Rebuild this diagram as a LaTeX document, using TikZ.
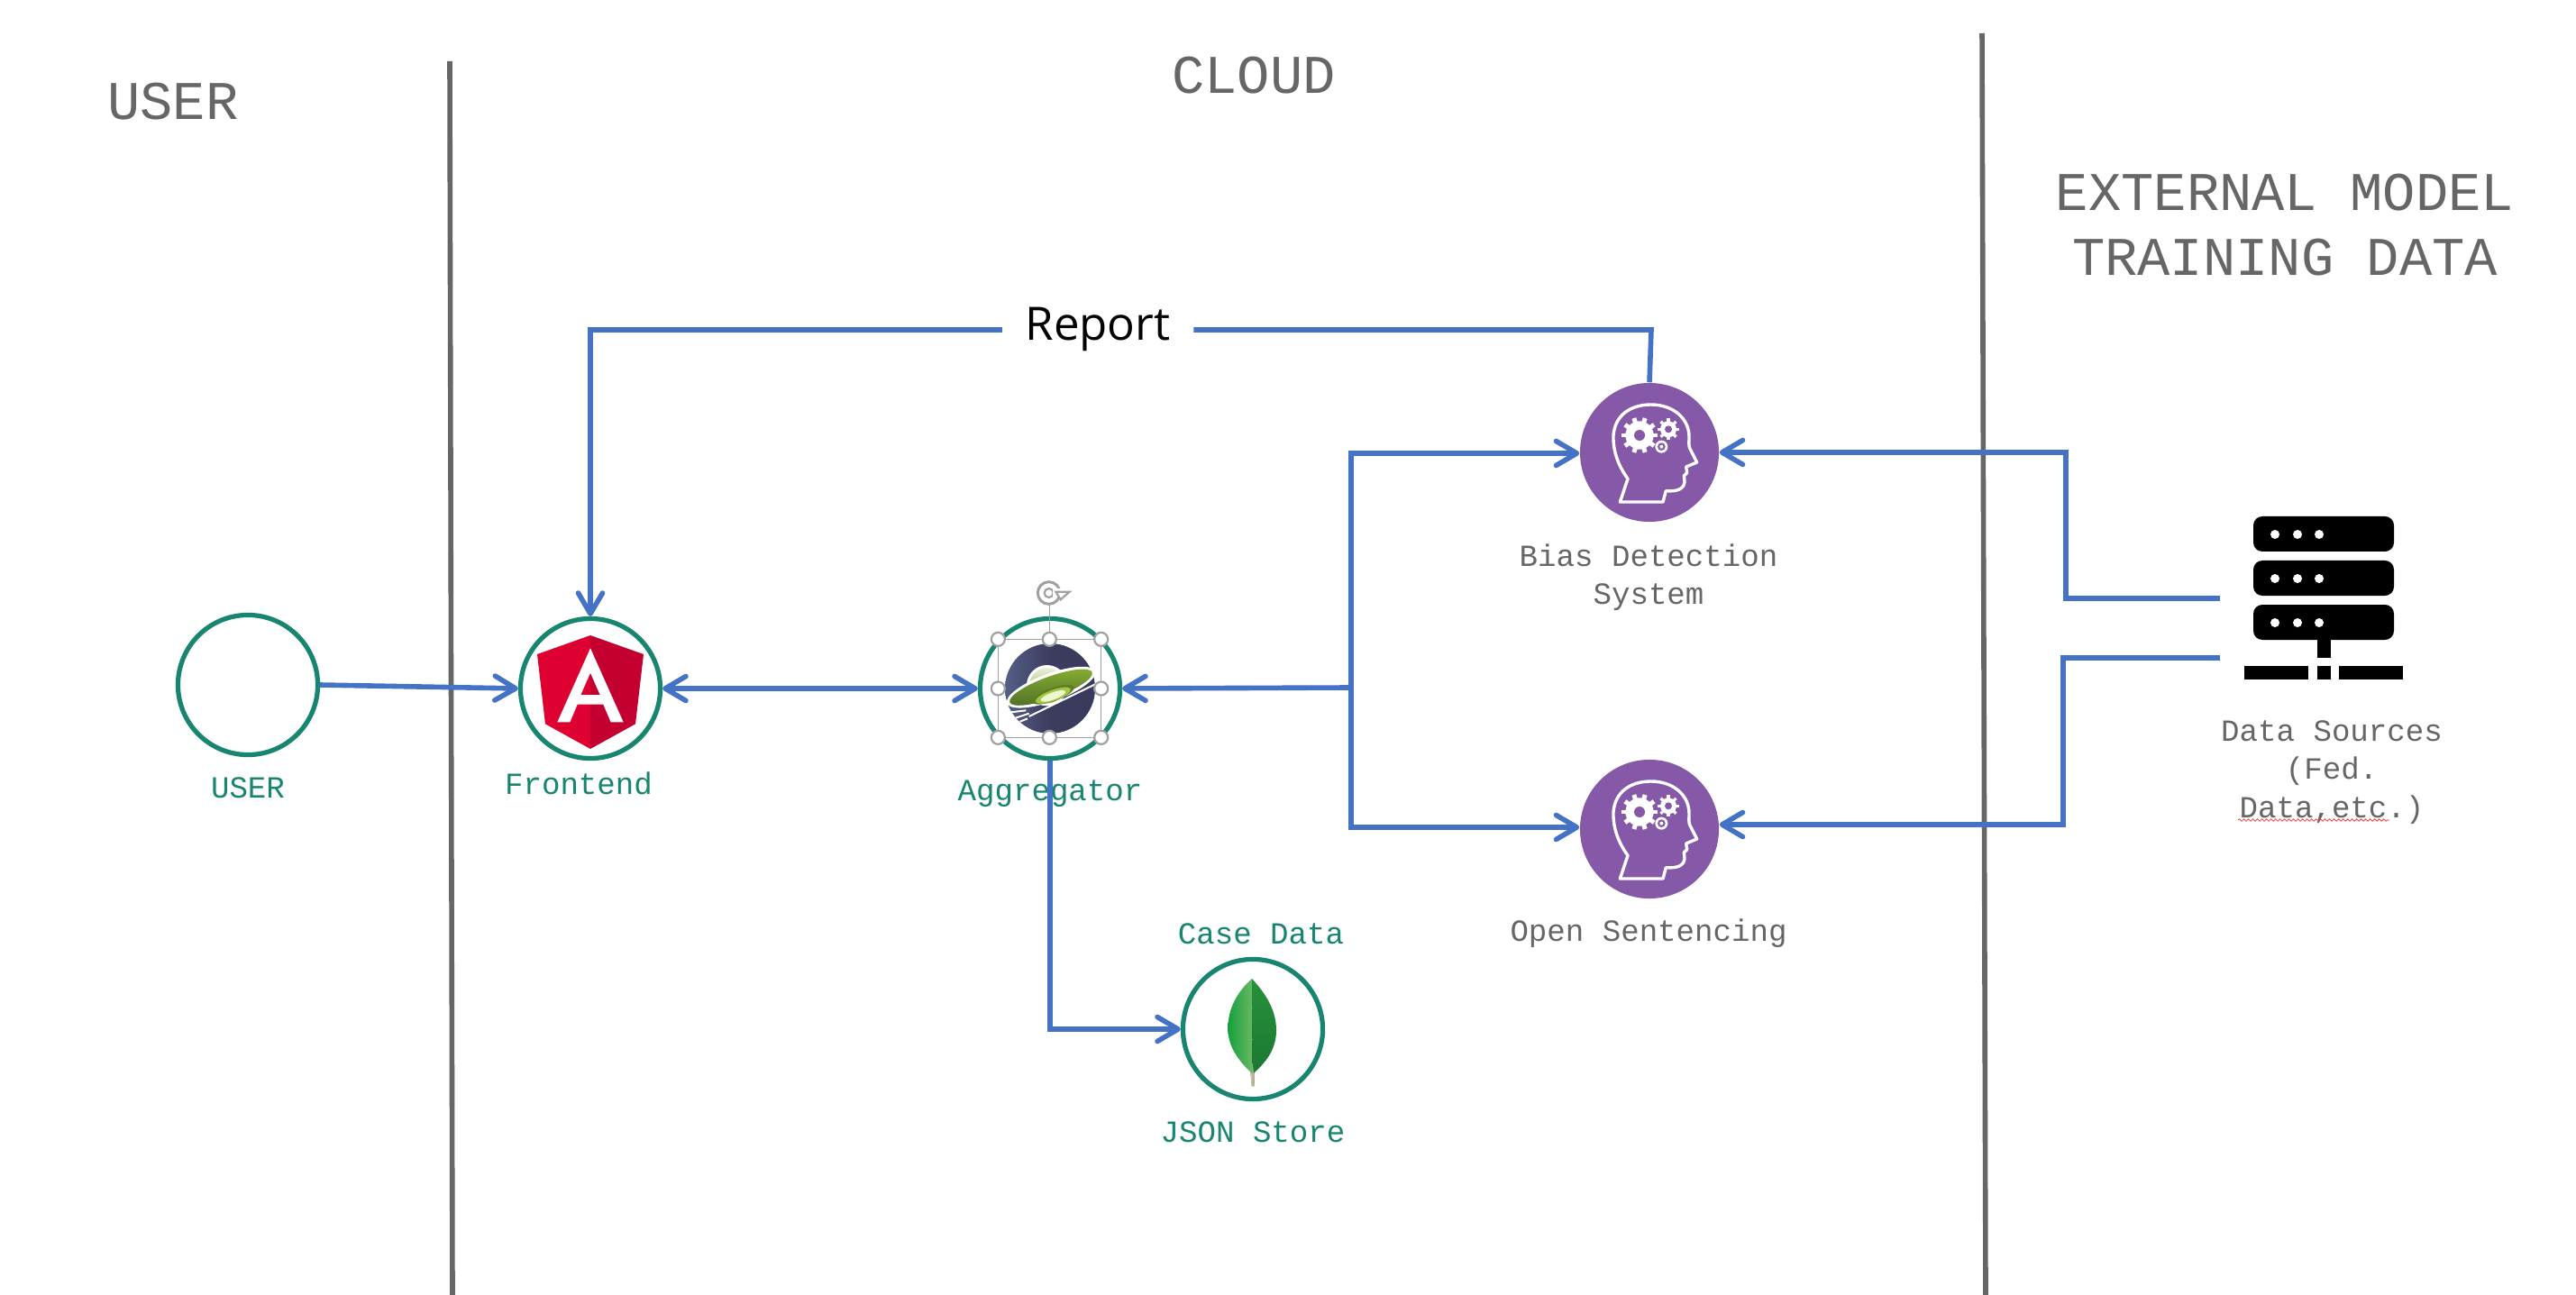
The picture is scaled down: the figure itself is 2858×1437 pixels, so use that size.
\documentclass[tikz,border=0pt]{standalone}
\usepackage{fontspec}
\setmainfont{Liberation Mono}
\newfontfamily\reportfont{Open Sans}
\usetikzlibrary{arrows.meta,decorations.pathmorphing}
\definecolor{flowblue}{HTML}{4472C4}
\definecolor{teal1}{HTML}{17856F}
\definecolor{txtgray}{HTML}{666666}
\definecolor{divgray}{HTML}{666666}
\definecolor{brainpurple}{HTML}{8558A8}
\definecolor{hgray}{HTML}{A0A0A0}
\tikzset{
  flow/.style={draw=flowblue,line width=0.056cm},
  flowto/.style={flow,-{Straight Barb[round,length=0.23cm,width=0.27cm]}},
  flowboth/.style={flow,{Straight Barb[round,length=0.23cm,width=0.27cm]}-{Straight Barb[round,length=0.23cm,width=0.27cm]}},
  ring/.style={circle,draw=teal1,line width=0.052cm,fill=white,minimum size=1.55cm,inner sep=0pt},
  brainbg/.style={circle,fill=brainpurple,minimum size=1.54cm,inner sep=0pt},
  bigtitle/.style={text=txtgray,font=\fontsize{17.2}{20.5}\selectfont,align=center,inner sep=0pt},
  lbl/.style={font=\fontsize{9.7}{12}\selectfont,align=center,inner sep=0pt},
  graylbl/.style={lbl,text=txtgray},
  teallbl/.style={lbl,text=teal1},
  divider/.style={draw=divgray,line width=0.056cm},
  handle/.style={circle,draw=hgray,line width=0.022cm,fill=white,minimum size=0.15cm,inner sep=0pt},
  brainpic/.pic={
    \begin{scope}[x=0.01cm/3,y=-0.01cm/3,shift={(-330,-307)}]
      \draw[white,line width=0.034cm,line join=round]
        (232,472) -- (258,395) .. controls (225,350) and (208,300) .. (210,250)
        .. controls (215,185) and (265,148) .. (335,148)
        .. controls (410,148) and (462,195) .. (462,255)
        .. controls (462,275) and (460,285) .. (465,295)
        -- (488,340) -- (452,355) -- (455,375) -- (445,385) -- (447,405)
        .. controls (445,430) and (420,438) .. (385,435) -- (375,472) -- cycle;
      \foreach \cx/\cy/\r/\b/\h/\tw/\n in {297/250/60/47/18/15/10,393/230/36/27/12/10/8}{
        \fill[white] (\cx,\cy) circle[radius=\b];
        \foreach \a in {1,...,\n}{
          \draw[white,line width=\tw*0.00333cm] (\cx,\cy) -- +({\a*360/\n}:{\r*0.0033333cm});
        }
        \fill[brainpurple] (\cx,\cy) circle[radius=\h];
      }
      \fill[white] (370,288) circle[radius=21];
      \fill[brainpurple] (370,288) circle[radius=13];
      \fill[white] (370,288) circle[radius=6];
    \end{scope}
  }
}
\begin{document}
\begin{tikzpicture}[x=0.01cm,y=-0.01cm]
\useasboundingbox (0,0) rectangle (2858,1437);
\fill[white] (0,0) rectangle (2858,1437);

% dividers
\coordinate (d1a) at (499,68);
\coordinate (d1b) at (502,1437);
\coordinate (d2a) at (2199,37);
\coordinate (d2b) at (2203,1437);
\draw[divider] (d1a) -- (d1b);
\draw[divider] (d2a) -- (d2b);

% titles
\node[bigtitle] (tuser) at (192,113) {USER};
\node[bigtitle] (tcloud) at (1391,84) {CLOUD};
\node[bigtitle] (text) at (2535,250) {EXTERNAL MODEL\\TRAINING DATA};

% circles
\node[ring] (user) at (275,760) {};
\node[ring] (front) at (655,764) {};
\node[ring] (agg) at (1165,764) {};
\node[ring] (mongo) at (1390,1142) {};
\node[brainbg] (bias) at (1830,502) {};
\node[brainbg] (open) at (1830,920) {};

% labels
\node[teallbl] (luser) at (275,874) {USER};
\node[teallbl] (lfront) at (642,869) {Frontend};
\node[teallbl] (lagg) at (1165,881) {Aggregator};
\node[teallbl] (lcase) at (1399,1036) {Case Data};
\node[teallbl] (ljson) at (1390,1256) {JSON Store};
\node[graylbl] (lbias) at (1829,641) {Bias Detection\\System};
\node[graylbl] (lopen) at (1829,1036) {Open Sentencing};
\node[graylbl] (ldata) at (2587,857) {Data Sources\\(Fed.\\Data,etc.)};
\coordinate (sqa) at (2483,910);
\coordinate (sqb) at (2651,910);
\draw[red!80!white,line width=0.008cm,decorate,decoration={snake,amplitude=0.012cm,segment length=0.05cm}] (sqa) -- (sqb);

% Angular
\begin{scope}[shift={(520,640)},x=0.01cm/3,y=-0.01cm/3]
  \fill[fill={rgb,255:red,221;green,0;blue,49}] (405,195) -- (228,258) -- (255,490) -- (405,573) -- cycle;
  \fill[fill={rgb,255:red,195;green,0;blue,47}] (405,195) -- (582,258) -- (555,490) -- (405,573) -- cycle;
  \fill[white,even odd rule] (405,238) -- (515,484) -- (473,484) -- (448,425) -- (362,425) -- (337,484) -- (295,484) -- cycle
     (405,320) -- (437,393) -- (373,393) -- cycle;
\end{scope}

% UFO
\begin{scope}[shift={(1000,620)},x=0.01cm/3,y=-0.01cm/3]
  \shade[left color={rgb,255:red,84;green,94;blue,134},right color={rgb,255:red,58;green,58;blue,92},middle color={rgb,255:red,60;green,60;blue,94}] (495,432) circle[radius=150];
  \fill[white] (485,422) circle[radius=68];
  \shade[top color={rgb,255:red,235;green,240;blue,220},bottom color={rgb,255:red,130;green,165;blue,55}] (485,422) circle[radius=59];
  \draw[white,line width=0.02cm] (355,512) -- (415,505) (380,530) -- (425,515) (395,542) -- (420,532);
  \draw[white,line width=0.02cm] (425,525) -- (645,418);
  \fill[white,rotate around={20:(498,428)}] (498,428) ellipse[x radius=156,y radius=46];
  \shade[rotate around={20:(498,428)},top color={rgb,255:red,135;green,175;blue,50},bottom color={rgb,255:red,80;green,110;blue,40}] (498,428) ellipse[x radius=146,y radius=36];
  \fill[rotate around={20:(505,452)},fill={rgb,255:red,95;green,125;blue,35}] (505,452) ellipse[x radius=74,y radius=22];
  \fill[rotate around={20:(505,455)},fill={rgb,255:red,160;green,200;blue,70}] (505,455) ellipse[x radius=62,y radius=18];
  \fill[rotate around={20:(505,457)},fill={rgb,255:red,240;green,245;blue,210}] (505,457) ellipse[x radius=44,y radius=12];
  % selection frame
  \coordinate (fa) at (322,268);
  \coordinate (fb) at (665,595);
  \draw[hgray,line width=0.012cm] (fa) rectangle (fb);
  \draw[hgray,line width=0.012cm] (493,152) -- (493,268);
  \node[handle] (h1) at (322,268) {};
  \node[handle] (h2) at (493,268) {};
  \node[handle] (h3) at (665,268) {};
  \node[handle] (h4) at (322,432) {};
  \node[handle] (h5) at (665,432) {};
  \node[handle] (h6) at (322,595) {};
  \node[handle] (h7) at (493,595) {};
  \node[handle] (h8) at (665,595) {};
  \draw[hgray,line width=0.03cm] (491,114) circle[radius=37];
  \draw[hgray,line width=0.022cm] (491,114) circle[radius=15];
  \fill[white] (505,100) rectangle (540,125);
  \draw[hgray,fill=white,line width=0.022cm,line join=miter] (514,110) -- (560,110) -- (530,136) -- cycle;
\end{scope}

% Mongo leaf
\begin{scope}[shift={(1280,1030)},x=0.01cm/3,y=-0.01cm/3]
  \shade[left color={rgb,255:red,200;green,195;blue,170},right color={rgb,255:red,170;green,165;blue,140}] (321,450) -- (337,450) -- (335,527) -- (325,527) -- cycle;
  \shade[left color={rgb,255:red,20;green,160;blue,60},right color={rgb,255:red,105;green,185;blue,100}] (327,168) .. controls (280,210) and (247,265) .. (247,335) .. controls (247,395) and (285,445) .. (329,485) -- cycle;
  \shade[top color={rgb,255:red,38;green,145;blue,58},bottom color={rgb,255:red,28;green,120;blue,50}] (327,168) .. controls (370,215) and (408,270) .. (408,340) .. controls (408,405) and (370,450) .. (333,482) -- (329,450) -- cycle;
\end{scope}

% brains
\pic at (bias) {brainpic};
\pic at (open) {brainpic};

% server
\begin{scope}
  \foreach \y in {573,622,671}{
    \fill[black,rounded corners=0.1cm] (2500,\y) rectangle (2656,\y+39);
    \foreach \x in {2524,2549,2573}{ \fill[white] (\x,\y+20) circle[radius=5]; }
  }
  \fill[black] (2571,710) rectangle (2585.5,730);
  \fill[black] (2490,739) rectangle (2561,754);
  \fill[black] (2571,739) rectangle (2585.5,754);
  \fill[black] (2595,739) rectangle (2666,754);
\end{scope}

% connectors
\coordinate (s1) at (2463,664);
\coordinate (s2) at (2463,730);
\coordinate (s1k) at (2292,664);
\coordinate (s2k) at (2289,730);
\coordinate (bus) at (1499,763);
\coordinate (rk) at (1832,366);
\node[minimum width=2.11cm,minimum height=0.2cm,inner sep=0pt,fill=white] (report) at (1218,366) {};
\node[inner sep=0pt,font=\reportfont\fontsize{14.5}{18}\selectfont,anchor=base] (rtext) at (1218,378) {Report};

\draw[flowto] (user.east) -- (front.west);
\draw[flowboth] (front.east) -- (agg.west);
\draw[flowto] (bus) -- (agg.east);
\draw[flowto] (bus) |- ([yshift=-0.01cm]bias.west);
\draw[flowto] (bus) |- ([yshift=0.02cm]open.west);
\draw[flowto] (agg.south) |- (mongo.west);
\draw[flowto] (s1) -- (s1k) |- (bias.east);
\draw[flowto] ([yshift=0cm]s2) -- (s2k) |- ([yshift=0.05cm]open.east);
\draw[flow] (bias.north) -- (rk) -- (report.east);
\draw[flowto] (report.west) -| (front.north);
\end{tikzpicture}
\end{document}
